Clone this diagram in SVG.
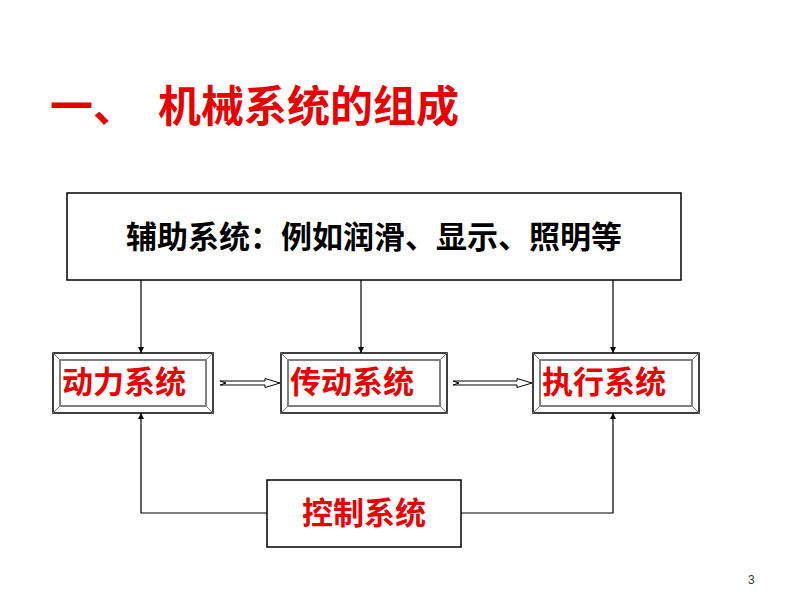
<svg xmlns="http://www.w3.org/2000/svg" width="800" height="600" viewBox="0 0 800 600">
<defs>
<style>
.t{font-family:"Liberation Sans","Noto Sans CJK SC",sans-serif;font-weight:bold}
.red{fill:#e60000}
.blk{fill:#000}
.box{fill:#fff;stroke:#000;stroke-width:1.5}
.bev{fill:none;stroke:#808080;stroke-width:2}
.dg{stroke:#808080;stroke-width:1}
.ln{fill:none;stroke:#000;stroke-width:1.2}
.dar{fill:#fff;stroke:#000;stroke-width:1}
</style>
<marker id="ah" viewBox="0 0 10 10" refX="10" refY="5" markerWidth="6" markerHeight="6" markerUnits="userSpaceOnUse" orient="auto">
<path d="M0,0 L10,5 L0,10 z" fill="#000"/>
</marker>
</defs>
<rect width="800" height="600" fill="#fff"/>
<g id="title">
<text class="t red" x="50" y="122" font-size="43">一、</text>
<text class="t red" x="158" y="122" font-size="43">机械系统的组成</text>
</g>
<g id="connectors">
<line class="ln" x1="141" y1="280" x2="141" y2="353" marker-end="url(#ah)"/>
<line class="ln" x1="361" y1="280" x2="361" y2="353" marker-end="url(#ah)"/>
<line class="ln" x1="613" y1="280" x2="613" y2="353" marker-end="url(#ah)"/>
<polyline class="ln" points="267,513 141,513 141,413" marker-end="url(#ah)"/>
<polyline class="ln" points="461,513 613,513 613,413" marker-end="url(#ah)"/>
<path class="dar" d="M220,381 L265,381 L265,378.5 L280,383 L265,387.5 L265,385 L220,385 L226,383 Z"/>
<path class="dar" d="M453,381 L517,381 L517,378.5 L532,383 L517,387.5 L517,385 L453,385 L459,383 Z"/>
</g>
<g id="aux">
<rect class="box" x="67" y="193" width="614" height="87"/>
<text class="t blk" x="374" y="248" font-size="31" text-anchor="middle">辅助系统：例如润滑、显示、照明等</text>
</g>
<g id="power">
<rect class="box" x="53" y="353" width="160" height="60"/>
<rect class="bev" x="60" y="360" width="146" height="46"/>
<path class="dg" d="M53,353 L60,360 M213,353 L206,360 M53,413 L60,406 M213,413 L206,406"/>
<text class="t red" x="62" y="393" font-size="31">动力系统</text>
</g>
<g id="transmission">
<rect class="box" x="281" y="353" width="166" height="60"/>
<rect class="bev" x="288" y="360" width="152" height="46"/>
<path class="dg" d="M281,353 L288,360 M447,353 L440,360 M281,413 L288,406 M447,413 L440,406"/>
<text class="t red" x="290" y="393" font-size="31">传动系统</text>
</g>
<g id="execution">
<rect class="box" x="533" y="353" width="166" height="60"/>
<rect class="bev" x="540" y="360" width="152" height="46"/>
<path class="dg" d="M533,353 L540,360 M699,353 L692,360 M533,413 L540,406 M699,413 L692,406"/>
<text class="t red" x="542" y="393" font-size="31">执行系统</text>
</g>
<g id="control">
<rect class="box" x="267" y="480" width="194" height="67"/>
<text class="t red" x="364" y="524" font-size="31" text-anchor="middle">控制系统</text>
</g>
<text x="748" y="584" font-family="Liberation Sans, sans-serif" font-size="12" fill="#333">3</text>
</svg>
